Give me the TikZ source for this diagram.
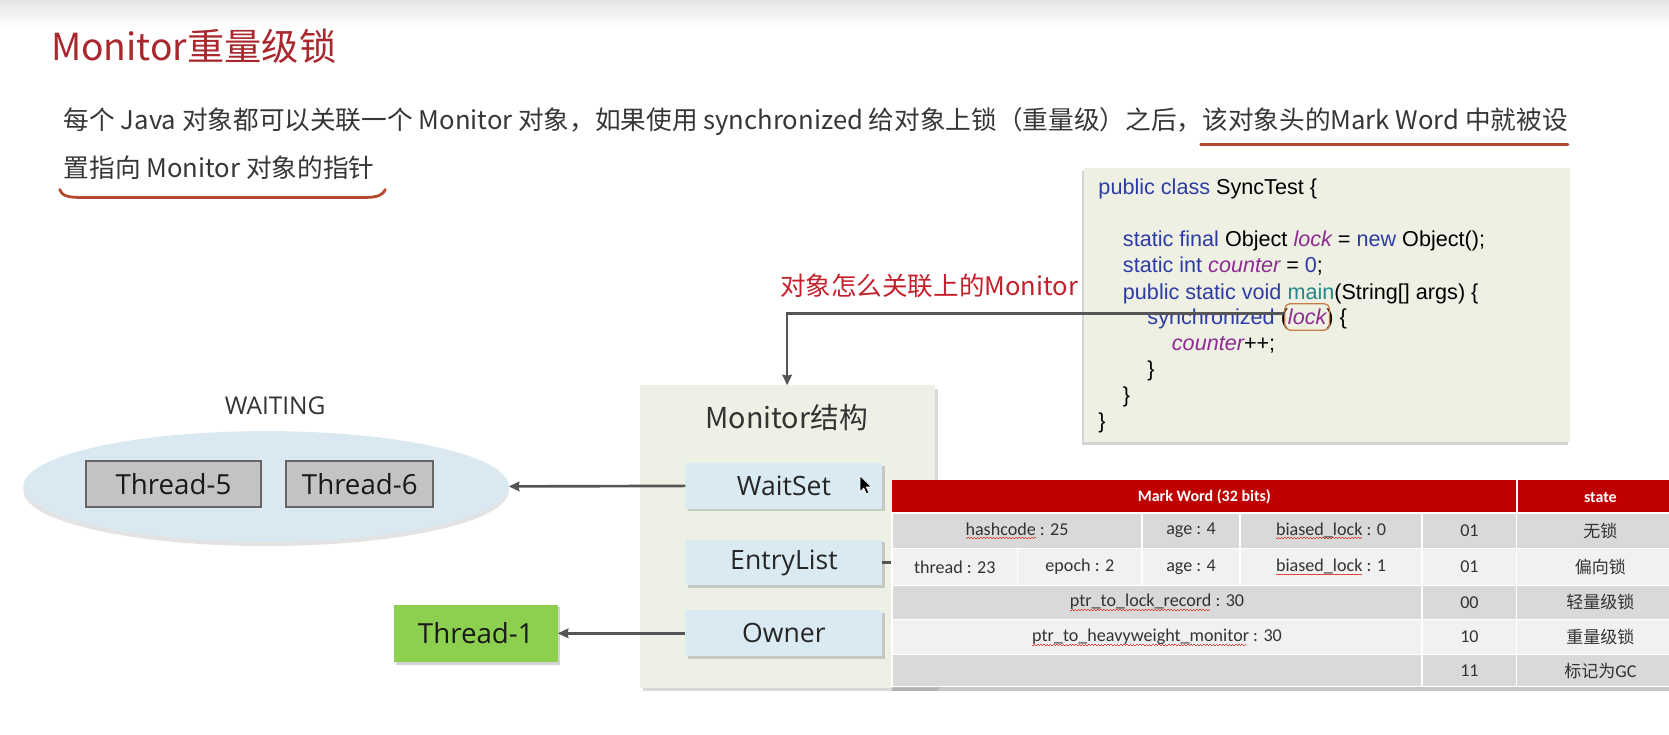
\documentclass[tikz,border=0pt]{standalone}
\usepackage{fontspec}
\setmainfont{Noto Sans CJK SC}
\newfontfamily\osans{Open Sans}
\newfontfamily\arial{Liberation Sans}
\newfontfamily\calib{Carlito}
\usetikzlibrary{shapes.geometric,shadows,arrows.meta,calc,fit}

\definecolor{titlered}{HTML}{A8282D}
\definecolor{labelred}{HTML}{C3202B}
\definecolor{bodytext}{HTML}{363636}
\definecolor{markred}{HTML}{B5472E}
\definecolor{codebg}{HTML}{EEF0E3}
\definecolor{monbg}{HTML}{EDF1E5}
\definecolor{fieldbg}{HTML}{DAEAF3}
\definecolor{ellbg}{HTML}{DAE9F1}
\definecolor{thgrey}{HTML}{C3C3C3}
\definecolor{thgreen}{HTML}{8DCF4F}
\definecolor{kwblue}{HTML}{2D3CA5}
\definecolor{varpurple}{HTML}{8E2C91}
\definecolor{fnteal}{HTML}{23888A}
\definecolor{hlbox}{HTML}{C97A45}
\definecolor{arrowgrey}{HTML}{555555}
\definecolor{hdrred}{HTML}{C00000}
\definecolor{rowdark}{HTML}{D9D9D9}
\definecolor{rowlight}{HTML}{F1F1F1}
\definecolor{celltext}{HTML}{333333}
\definecolor{squig}{HTML}{E0413A}

% code colouring
\newcommand\kwd[1]{\textcolor{kwblue}{#1}}
\newcommand\vrb[1]{\textcolor{varpurple}{\itshape #1}}
\newcommand\fnc[1]{\textcolor{fnteal}{#1}}

% spell-check style wavy underline
\newsavebox\spellbox
\newcommand\spell[1]{\sbox\spellbox{#1}%
  \rlap{\raisebox{-3.5pt}{\textcolor{squig}{\leaders\hbox to 3pt{\rule{1.5pt}{0.6pt}\raisebox{0.7pt}{\rule{1.5pt}{0.6pt}}}\hskip\wd\spellbox}}}%
  \usebox\spellbox}

% table cell: name, x1, y1, x2, y2, fill, text
\newcommand\tcell[7]{%
  \fill[#6] (#2,#3) rectangle (#4,#5);
  \draw[cellrule] (#2,#3) rectangle (#4,#5);
  \node[celltext] (#1) at ({(#2+#4)/2},{(#3+#5)/2}) {#7};}

\begin{document}
\begin{tikzpicture}[x=1pt,y=-1pt,
  every node/.style={inner sep=0pt, outer sep=0pt},
  bodyline/.style={anchor=base west, text=bodytext, font=\fontsize{24.1}{28}\selectfont},
  codeline/.style={anchor=base west, font=\arial\fontsize{20.3}{24}\selectfont},
  codebox/.style={fill=codebg, minimum width=457pt, minimum height=257pt,
    drop shadow={shadow xshift=-1.5pt, shadow yshift=-3pt, opacity=.35}},
  monbox/.style={fill=monbg, minimum width=277pt, minimum height=284pt,
    drop shadow={shadow xshift=3pt, shadow yshift=-3pt, opacity=.3}},
  field/.style={fill=fieldbg, minimum width=185pt, minimum height=43pt,
    font=\osans\fontsize{25}{28}\selectfont, text=black!85,
    drop shadow={shadow xshift=2pt, shadow yshift=-2.5pt, opacity=.35}},
  waitthread/.style={fill=thgrey, draw=black!60, line width=1.8pt, minimum height=43pt,
    font=\osans\fontsize{26}{30}\selectfont, text=black!90},
  ownerthread/.style={fill=thgreen, minimum width=154pt, minimum height=54pt,
    font=\osans\fontsize{26}{30}\selectfont, text=black!90,
    drop shadow={shadow xshift=2pt, shadow yshift=-2.5pt, opacity=.35}},
  pool/.style={ellipse, fill=ellbg, minimum width=456pt, minimum height=104pt,
    drop shadow={shadow xshift=0pt, shadow yshift=-4pt, opacity=.22}},
  conn/.style={draw=arrowgrey, line width=2.5pt, -{Stealth[length=10pt,width=9pt,inset=1pt]}},
  cellrule/.style={draw=white, line width=1.2pt},
  celltext/.style={font=\calib\fontsize{17}{20}\selectfont, text=celltext},
  hdrtext/.style={font=\calib\bfseries\fontsize{15}{18}\selectfont, text=white},
  underl/.style={draw=markred, line width=2.6pt, line cap=round}
]
\useasboundingbox (0,0) rectangle (1568,690.5);

% faint band across the top
\shade[top color=black!10, bottom color=white] (0,0) rectangle (1568,26);

% heading and intro text
\node[anchor=base west, text=titlered, font=\fontsize{35}{40}\selectfont] (title) at (48,57) {Monitor重量级锁};
\node[bodyline] (intro1) at (60,122) {每个 Java 对象都可以关联一个 Monitor 对象，如果使用 synchronized 给对象上锁（重量级）之后，该对象头的Mark Word 中就被设};
\node[bodyline] (intro2) at (60,167) {置指向 Monitor 对象的指针};
\draw[underl] (1128,136) -- (1473,136);
\draw[underl] (56,178) .. controls (58,184) and (64,185.5) .. (76,185.5) -- (343,185.5) .. controls (355,185.5) and (360,183) .. (362,178);

% sample code
\node[codebox] (code) at (1246.5,286.5) {};
\node[codeline] (c1) at (1032,183) {\kwd{public class} SyncTest \{};
\node[codeline] (c2) at (1055,232) {\kwd{static final} Object \vrb{lock} = \kwd{new} Object();};
\node[codeline] (c3) at (1055,256) {\kwd{static int} \vrb{counter} = \kwd{0};};
\node[codeline] (c4) at (1055,281) {\kwd{public static void} \fnc{main}(String[] args) \{};
\node[codeline] (c5) at (1078,305) {\kwd{synchronized} (};
\node[codeline] (lk) at (c5.base east) {\vrb{lock}};
\node[codeline] (c5b) at (lk.base east) {) \{};
\node[codeline] (c6) at (1101,329) {\vrb{counter}++;};
\node[codeline] (c7) at (1078,354) {\}};
\node[codeline] (c8) at (1055,378) {\}};
\node[codeline] (c9) at (1032,403) {\}};
\node[draw=hlbox, line width=1.2pt, rounded corners=5pt, fit=(lk), inner xsep=3pt, inner ysep=5pt] (lkbox) {};

% question label
\node[anchor=base west, text=labelred, font=\fontsize{24}{28}\selectfont] (ask) at (733,278) {对象怎么关联上的Monitor};

% monitor structure
\node[monbox] (mon) at (739.5,504) {};
\draw[conn] ($(lkbox.west)+(0,-3)$) -| (mon.north);
\node[anchor=base, text=black!80, font=\fontsize{27}{30}\selectfont] (montitle) at (739,403) {Monitor结构};
\node[field] (ws) at (736.5,456.5) {WaitSet};
\node[field] (el) at (736.5,528.5) {EntryList};
\node[field] (ow) at (736.5,595) {Owner};

% mouse pointer
\filldraw[fill=black, draw=white, line width=0.6pt] (808,447) -- (808,462) -- (811.5,458.5) -- (814,464) -- (816.3,463) -- (813.8,457.5) -- (818.5,457.5) -- cycle;

% waiting threads
\node[anchor=base, text=black!80, font=\osans\fontsize{23}{26}\selectfont] (waitlbl) at (258.5,389) {WAITING};
\node[pool] (pool) at (250,457) {};
\node[waitthread, minimum width=164pt] (t5) at (163,454.5) {Thread-5};
\node[waitthread, minimum width=138pt] (t6) at (338,455) {Thread-6};
\node[ownerthread] (t1) at (447,595) {Thread-1};

\draw[conn] (ws.west) -- (pool.east);
\draw[conn] (ow.west) -- (t1.east);
\coordinate (tbledge) at (845,528.5);
\draw[draw=arrowgrey, line width=2.5pt] (el.east) -- (tbledge);

% mark word layout table
\path[fill=rowdark, drop shadow={shadow xshift=0pt, shadow yshift=-4pt, opacity=.45}] (838,451) rectangle (1582,645);
\fill[hdrred] (838,451) rectangle (1582,482);
\draw[draw=white, line width=1.5pt] (1425,451) -- (1425,482);
\node[hdrtext] (mwhdr) at (1131.5,467) {Mark Word (32 bits)};
\node[hdrtext] (sthdr) at (1503.5,467) {state};

\tcell{a1}{838}{482}{1073}{515}{rowdark}{\spell{hashcode} : 25}
\tcell{a2}{1073}{482}{1165}{515}{rowdark}{age : 4}
\tcell{a3}{1165}{482}{1336}{515}{rowdark}{\spell{biased\_lock} : 0}
\tcell{a4}{1336}{482}{1425}{515}{rowdark}{01}
\tcell{a5}{1425}{482}{1582}{515}{rowdark}{{\rmfamily\fontsize{16}{20}\selectfont 无锁}}

\tcell{b1}{838}{515}{956}{550}{rowlight}{thread : 23}
\tcell{b2}{956}{515}{1073}{550}{rowlight}{epoch : 2}
\tcell{b3}{1073}{515}{1165}{550}{rowlight}{age : 4}
\tcell{b4}{1165}{515}{1336}{550}{rowlight}{\spell{biased\_lock} : 1}
\tcell{b5}{1336}{515}{1425}{550}{rowlight}{01}
\tcell{b6}{1425}{515}{1582}{550}{rowlight}{{\rmfamily\fontsize{16}{20}\selectfont 偏向锁}}

\tcell{c1t}{838}{550}{1336}{582}{rowdark}{\spell{ptr\_to\_lock\_record} : 30}
\tcell{c2t}{1336}{550}{1425}{582}{rowdark}{00}
\tcell{c3t}{1425}{550}{1582}{582}{rowdark}{{\rmfamily\fontsize{16}{20}\selectfont 轻量级锁}}

\tcell{d1}{838}{582}{1336}{615}{rowlight}{\spell{ptr\_to\_heavyweight\_monitor} : 30}
\tcell{d2}{1336}{582}{1425}{615}{rowlight}{10}
\tcell{d3}{1425}{582}{1582}{615}{rowlight}{{\rmfamily\fontsize{16}{20}\selectfont 重量级锁}}

\tcell{e1}{838}{615}{1336}{645}{rowdark}{}
\tcell{e2}{1336}{615}{1425}{645}{rowdark}{11}
\tcell{e3}{1425}{615}{1582}{645}{rowdark}{{\rmfamily\fontsize{16}{20}\selectfont 标记为}GC}
\end{tikzpicture}
\end{document}
